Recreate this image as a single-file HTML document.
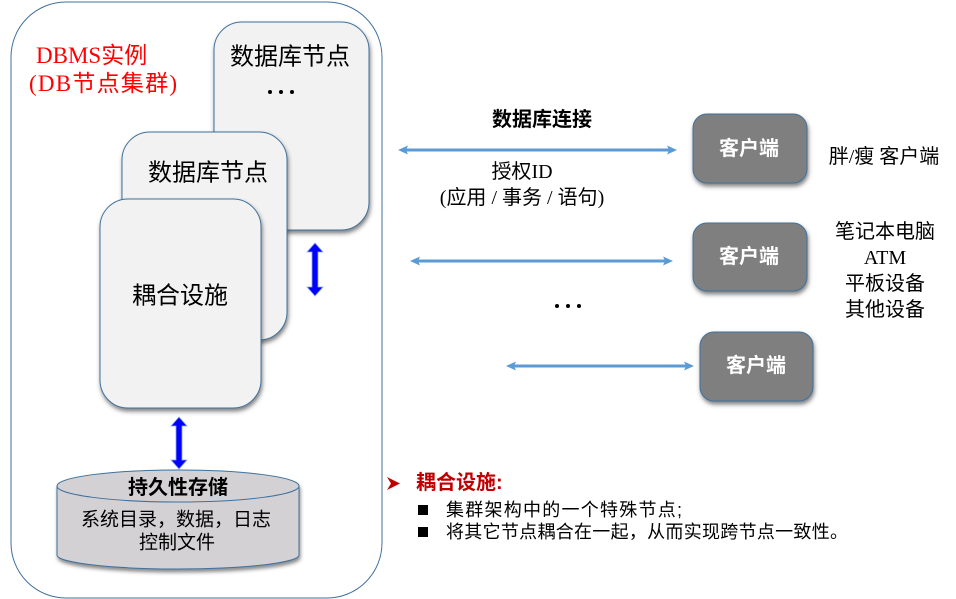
<!DOCTYPE html>
<html>
<head>
<meta charset="utf-8">
<style>
  html, body { margin:0; padding:0; background:#ffffff; }
  body { width:956px; height:599px; overflow:hidden; }
  svg { display:block; }
  .cjk { font-family: "Liberation Sans", "Noto Sans CJK SC", sans-serif; }
  .ser { font-family: "Liberation Serif", "Noto Sans CJK SC", serif; }
</style>
</head>
<body>
<svg width="956" height="599" viewBox="0 0 956 599" xmlns="http://www.w3.org/2000/svg">
  <defs>
    <filter id="sh" x="-20%" y="-20%" width="140%" height="140%">
      <feDropShadow dx="1" dy="3" stdDeviation="2" flood-color="#404040" flood-opacity="0.65"/>
    </filter>
    <filter id="sh2" x="-20%" y="-20%" width="140%" height="140%">
      <feDropShadow dx="1" dy="3" stdDeviation="1.8" flood-color="#303030" flood-opacity="0.55"/>
    </filter>
  </defs>

  <!-- Outer container -->
  <rect x="11" y="2" width="371" height="596" rx="55" ry="55" fill="#ffffff" stroke="#41719c" stroke-width="1"/>

  <!-- DBMS label -->
  <text x="36" y="63" class="ser" font-size="23" fill="#ff0000"><tspan font-family="Liberation Serif">DBMS</tspan>实例</text>
  <text x="29" y="91" class="ser" font-size="23" fill="#ff0000" textLength="148" lengthAdjust="spacing"><tspan font-family="Liberation Serif">(DB</tspan>节点集群<tspan font-family="Liberation Serif">)</tspan></text>

  <!-- Node 1 (back) -->
  <rect x="214" y="22" width="155" height="208" rx="28" ry="28" fill="#f2f2f2" stroke="#41719c" stroke-width="1" filter="url(#sh)"/>
  <text x="290" y="57" class="cjk" font-size="24" fill="#000" text-anchor="middle" dominant-baseline="central">数据库节点</text>
  <circle cx="270" cy="92" r="2" fill="#000"/>
  <circle cx="281" cy="92" r="2" fill="#000"/>
  <circle cx="292" cy="92" r="2" fill="#000"/>

  <!-- Node 2 -->
  <rect x="122" y="132" width="165" height="208" rx="28" ry="28" fill="#f2f2f2" stroke="#41719c" stroke-width="1" filter="url(#sh)"/>
  <text x="208" y="173" class="cjk" font-size="24" fill="#000" text-anchor="middle" dominant-baseline="central">数据库节点</text>

  <!-- Node 3 -->
  <rect x="100" y="199" width="161" height="209" rx="28" ry="28" fill="#f2f2f2" stroke="#41719c" stroke-width="1" filter="url(#sh)"/>
  <text x="180" y="296" class="cjk" font-size="24" fill="#000" text-anchor="middle" dominant-baseline="central">耦合设施</text>

  <!-- Vertical blue arrows -->
  <polygon points="315,243 323,252 318,252 318,287 323,287 315,296 307,287 312,287 312,252 307,252" fill="#0000ff" stroke="#8fa8e8" stroke-width="0.8"/>
  <polygon points="179,417 187,426 182,426 182,460 187,460 179,469 171,460 176,460 176,426 171,426" fill="#0000ff" stroke="#8fa8e8" stroke-width="0.8"/>

  <!-- Cylinder -->
  <g filter="url(#sh2)">
    <path d="M57,486 L57,555 A121,14 0 0 0 299,555 L299,486 A121,16 0 0 0 57,486 Z" fill="#d3d1d3" stroke="#41719c" stroke-width="1"/>
  </g>
  <path d="M57,486 A121,16 0 0 0 299,486" fill="none" stroke="#41719c" stroke-width="1"/>
  <text x="178" y="488" class="cjk" font-size="20" font-weight="bold" fill="#000" text-anchor="middle" dominant-baseline="central">持久性存储</text>
  <text x="176" y="520" class="cjk" font-size="19" fill="#000" text-anchor="middle" dominant-baseline="central">系统目录，数据，日志</text>
  <text x="177" y="543" class="cjk" font-size="19" fill="#000" text-anchor="middle" dominant-baseline="central">控制文件</text>

  <!-- Right side: connection labels -->
  <text x="542" y="120" class="cjk" font-size="20" font-weight="bold" fill="#000" text-anchor="middle" dominant-baseline="central">数据库连接</text>
  <text x="522" y="172" class="ser" font-size="20" fill="#000" text-anchor="middle" dominant-baseline="central">授权<tspan font-family="Liberation Serif">ID</tspan></text>
  <text x="522" y="198" class="ser" font-size="20" fill="#000" text-anchor="middle" dominant-baseline="central"><tspan font-family="Liberation Serif">(</tspan>应用<tspan font-family="Liberation Serif"> / </tspan>事务<tspan font-family="Liberation Serif"> / </tspan>语句<tspan font-family="Liberation Serif">)</tspan></text>

  <!-- Horizontal arrows -->
  <g fill="#5b9bd5" stroke="none">
    <rect x="405" y="148.5" width="265" height="3"/>
    <polygon points="398,150 408,145.5 406,150 408,154.5"/>
    <polygon points="677,150 667,145.5 669,150 667,154.5"/>

    <rect x="417" y="259.5" width="249" height="3"/>
    <polygon points="410,261 420,256.5 418,261 420,265.5"/>
    <polygon points="673,261 663,256.5 665,261 663,265.5"/>

    <rect x="513" y="364.5" width="174" height="3"/>
    <polygon points="506,366 516,361.5 514,366 516,370.5"/>
    <polygon points="694,366 684,361.5 686,366 684,370.5"/>
  </g>

  <!-- Dots -->
  <circle cx="557" cy="306" r="2" fill="#000"/>
  <circle cx="568" cy="306" r="2" fill="#000"/>
  <circle cx="579" cy="306" r="2" fill="#000"/>

  <!-- Client boxes -->
  <rect x="693" y="114" width="114" height="69" rx="14" ry="14" fill="#7f7f7f" stroke="#41719c" stroke-width="1" filter="url(#sh)"/>
  <text x="749" y="149" class="cjk" font-size="20" font-weight="bold" fill="#ffffff" text-anchor="middle" dominant-baseline="central">客户端</text>

  <rect x="693" y="223" width="114" height="68" rx="14" ry="14" fill="#7f7f7f" stroke="#41719c" stroke-width="1" filter="url(#sh)"/>
  <text x="749" y="257" class="cjk" font-size="20" font-weight="bold" fill="#ffffff" text-anchor="middle" dominant-baseline="central">客户端</text>

  <rect x="700" y="332" width="113" height="69" rx="14" ry="14" fill="#7f7f7f" stroke="#41719c" stroke-width="1" filter="url(#sh)"/>
  <text x="756" y="366" class="cjk" font-size="20" font-weight="bold" fill="#ffffff" text-anchor="middle" dominant-baseline="central">客户端</text>

  <!-- Client labels -->
  <text x="884" y="157" class="ser" font-size="20" fill="#000" text-anchor="middle" dominant-baseline="central">胖<tspan font-family="Liberation Serif">/</tspan>瘦 客户端</text>
  <text x="885" y="232" class="ser" font-size="20" fill="#000" text-anchor="middle" dominant-baseline="central">笔记本电脑</text>
  <text x="885" y="258" font-family="Liberation Serif, serif" font-size="20" fill="#000" text-anchor="middle" dominant-baseline="central">ATM</text>
  <text x="885" y="284" class="ser" font-size="20" fill="#000" text-anchor="middle" dominant-baseline="central">平板设备</text>
  <text x="885" y="310" class="ser" font-size="20" fill="#000" text-anchor="middle" dominant-baseline="central">其他设备</text>

  <!-- Bottom notes -->
  <polygon points="387,477 400,483.5 387,490 391,483.5" fill="#c00000"/>
  <text x="416" y="483" class="cjk" font-size="20" font-weight="bold" fill="#c00000" dominant-baseline="central">耦合设施:</text>
  <rect x="418" y="505" width="10" height="10" fill="#000"/>
  <text x="446" y="510" class="cjk" font-size="18" fill="#000" dominant-baseline="central" textLength="236" lengthAdjust="spacing">集群架构中的一个特殊节点;</text>
  <rect x="418" y="527" width="10" height="10" fill="#000"/>
  <text x="446" y="532" class="cjk" font-size="18" fill="#000" dominant-baseline="central" textLength="402" lengthAdjust="spacing">将其它节点耦合在一起，从而实现跨节点一致性。</text>
</svg>
</body>
</html>
